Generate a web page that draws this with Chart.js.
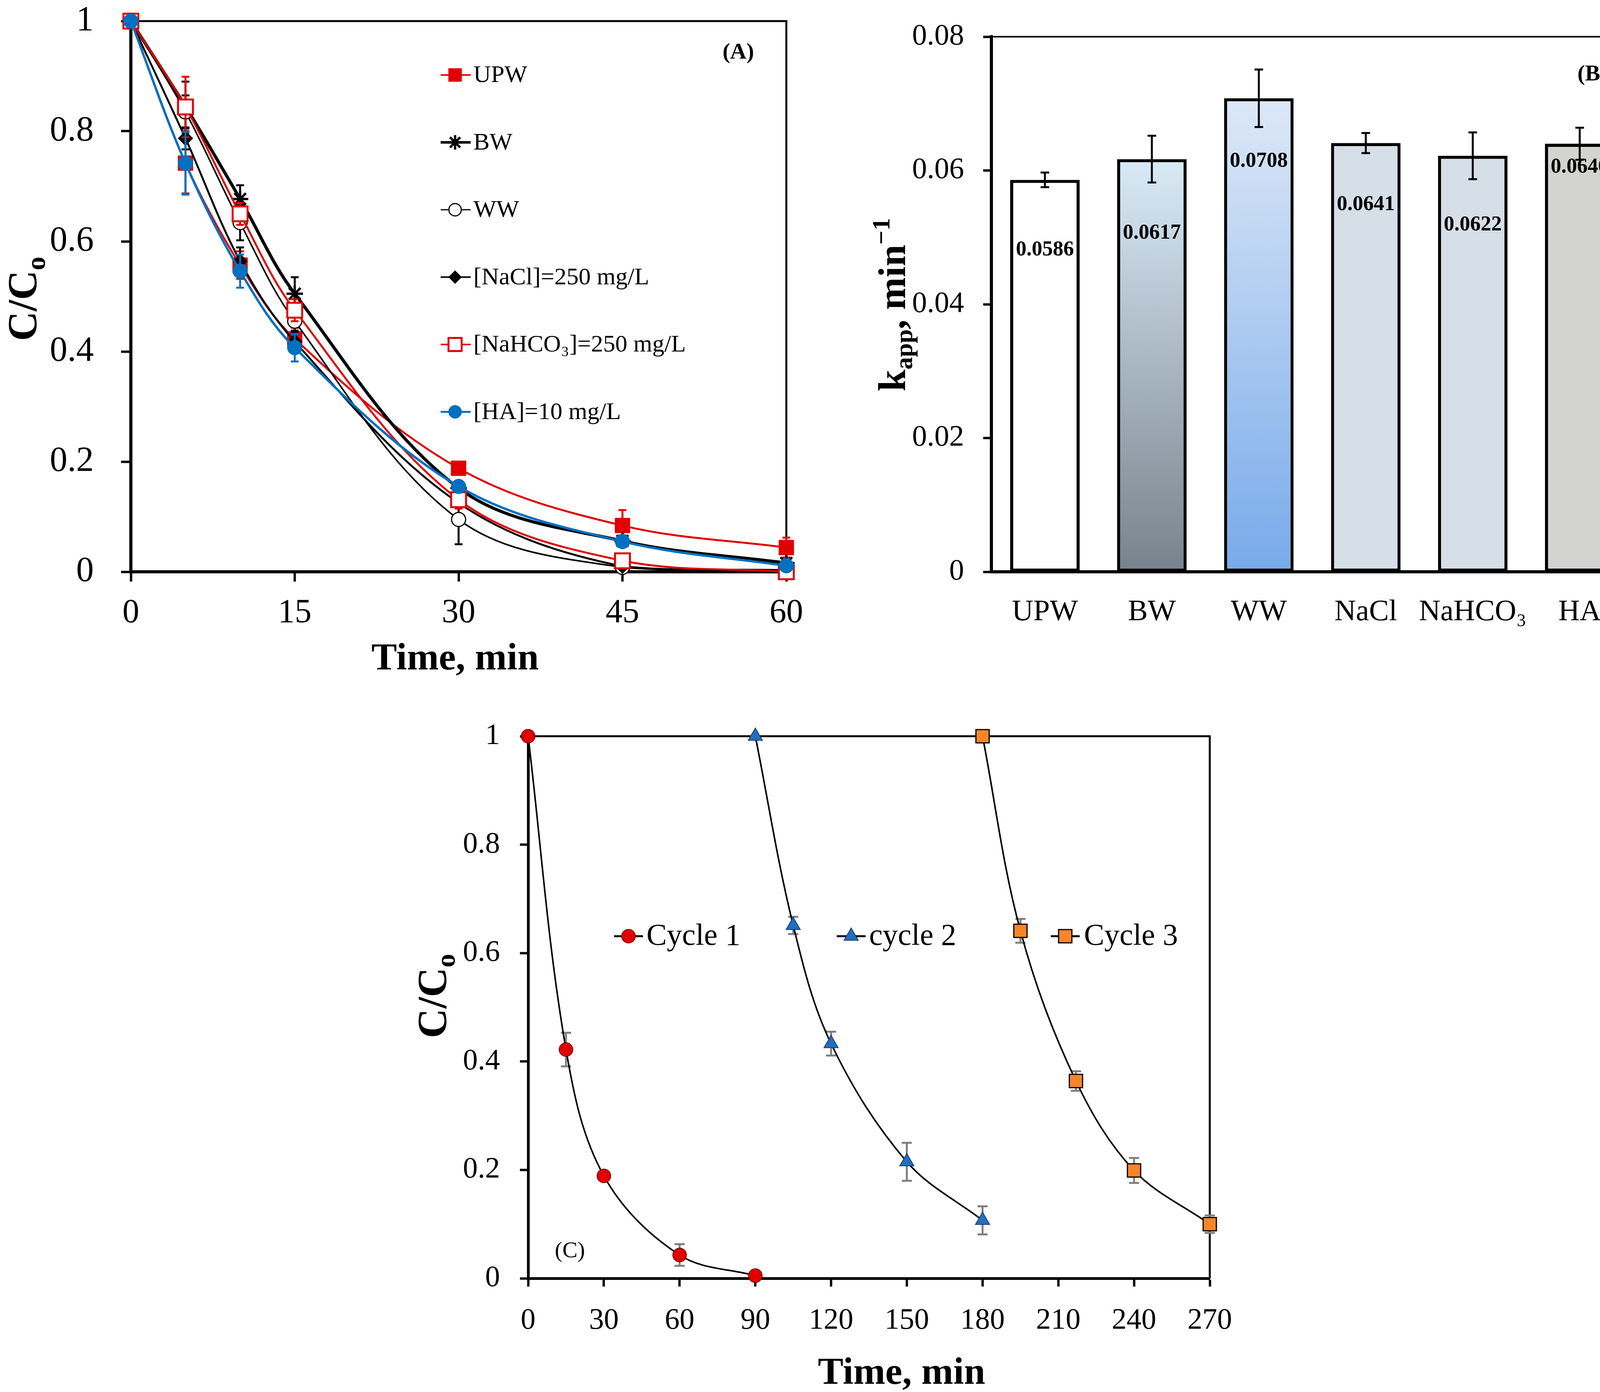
<!DOCTYPE html>
<html>
<head>
<meta charset="utf-8">
<script src="https://cdn.jsdelivr.net/npm/chart.js@4.4.1/dist/chart.umd.min.js"></script>
<style>
html,body{margin:0;padding:0;background:#fff;width:4197px;height:3564px;overflow:hidden;position:relative}
canvas{position:absolute}
</style>
</head>
<body>
<canvas id="cA" width="2150" height="1760" style="left:0px;top:0px;width:2150px;height:1760px"></canvas>
<canvas id="cB" width="1997" height="1760" style="left:2200px;top:0px;width:1997px;height:1760px"></canvas>
<canvas id="cC" width="2300" height="1814" style="left:1000px;top:1750px;width:2300px;height:1814px"></canvas>
<script>
// ================= DATA =================
// Panel (A): C/Co vs time for different water matrices
const timeA = [0, 5, 10, 15, 30, 45, 60];
const namesA = ['UPW', 'BW', 'WW', '[NaCl]=250 mg/L', '[NaHCO₃]=250 mg/L', '[HA]=10 mg/L'];
const upwA    = [1, 0.742, 0.557, 0.423, 0.188, 0.084, 0.044];
const bwA     = [1, 0.845, 0.677, 0.505, 0.152, 0.056, 0.016];
const wwA     = [1, 0.835, 0.634, 0.455, 0.095, 0.008, 0.002];
const naclA   = [1, 0.787, 0.564, 0.418, 0.125, 0.010, 0.003];
const nahco3A = [1, 0.844, 0.650, 0.475, 0.131, 0.020, 0.000];
const haA     = [1, 0.742, 0.546, 0.407, 0.155, 0.055, 0.011];
const upwErrA    = [0, 0.055, 0.025, 0.020, 0.010, 0.028, 0.018];
const bwErrA     = [0, 0.045, 0.025, 0.030, 0.010, 0.010, 0.005];
const wwErrA     = [0, 0.030, 0.032, 0.020, 0.045, 0.005, 0.003];
const naclErrA   = [0, 0.020, 0.025, 0.020, 0.010, 0.005, 0.003];
const nahco3ErrA = [0, 0.055, 0.020, 0.020, 0.015, 0.010, 0.008];
const haErrA     = [0, 0.057, 0.030, 0.025, 0.010, 0.008, 0.005];
const yTicksA = [0, 0.2, 0.4, 0.6, 0.8, 1];
const xTicksA = [0, 15, 30, 45, 60];

// Panel (B): apparent rate constants
const catsB = ['UPW', 'BW', 'WW', 'NaCl', 'NaHCO₃', 'HA'];
const kappB = [0.0586, 0.0617, 0.0708, 0.0641, 0.0622, 0.0640];
const kErrB = [0.0011, 0.0035, 0.0043, 0.0015, 0.0035, 0.0024];
const kLabelsB = ['0.0586', '0.0617', '0.0708', '0.0641', '0.0622', '0.0640'];

// Panel (C): reuse cycles
const namesC = ['Cycle 1', 'cycle 2', 'Cycle 3'];
const cycle1T = [0, 15, 30, 60, 90];
const cycle1V = [1, 0.422, 0.189, 0.043, 0.005];
const cycle1E = [0, 0.031, 0.006, 0.020, 0.003];
const cycle2T = [90, 105, 120, 150, 180];
const cycle2V = [1, 0.651, 0.433, 0.215, 0.107];
const cycle2E = [0, 0.016, 0.022, 0.035, 0.026];
const cycle3T = [180, 195, 217, 240, 270];
const cycle3V = [1, 0.641, 0.364, 0.199, 0.100];
const cycle3E = [0, 0.022, 0.018, 0.023, 0.016];

// ================= HELPERS =================
const SERIF = "'Liberation Serif', 'Times New Roman', serif";
Chart.defaults.font.family = SERIF;
Chart.defaults.color = '#000';

function xy(xs, ys) { return xs.map((x, i) => ({ x: x, y: ys[i] })); }
function fnt(size, bold) { return (bold ? 'bold ' : '') + size + 'px ' + SERIF; }
function fixY(w) { return s => { s.width = w; s.paddingTop = 0; s.paddingBottom = 0; }; }
function fixX(h) { return s => { s.height = h; s.paddingLeft = 0; s.paddingRight = 0; }; }

function drawRich(ctx, parts, cx, cy, rotate) {
  ctx.save();
  ctx.translate(cx, cy);
  if (rotate) ctx.rotate(-Math.PI / 2);
  let total = 0;
  parts.forEach(p => { ctx.font = fnt(p.size, p.bold); p.w = ctx.measureText(p.t).width; total += p.w; });
  let x = -total / 2;
  const base = parts[0].size * 0.34;
  ctx.fillStyle = '#000';
  ctx.textAlign = 'left';
  ctx.textBaseline = 'alphabetic';
  parts.forEach(p => { ctx.font = fnt(p.size, p.bold); ctx.fillText(p.t, x, base + (p.dy || 0)); x += p.w; });
  ctx.restore();
}

function drawMarker(ctx, ds, x, y, scale) {
  ctx.save();
  ctx.fillStyle = ds.pointBackgroundColor;
  ctx.strokeStyle = ds.pointBorderColor;
  ctx.lineWidth = ds.pointBorderWidth;
  Chart.helpers.drawPoint(ctx, {
    pointStyle: ds.pointStyle, rotation: 0,
    radius: ds.pointRadius * (scale || 1), borderWidth: ds.pointBorderWidth
  }, x, y);
  ctx.restore();
}

function paintErrors(chart, args) {
  const ds = chart.data.datasets[args.index];
  const ctx = chart.ctx, ys = chart.scales.y;
  ctx.save();
  ctx.strokeStyle = ds.errColor;
  ctx.lineWidth = ds.errWidth;
  args.meta.data.forEach((el, i) => {
    const e = ds.errors[i];
    if (!e) return;
    const raw = ds.data[i];
    const v = (typeof raw === 'number') ? raw : raw.y;
    const x = el.x;
    const y1 = ys.getPixelForValue(v + e), y2 = ys.getPixelForValue(v - e);
    const c = ds.errCap;
    ctx.beginPath();
    ctx.moveTo(x, y1); ctx.lineTo(x, y2);
    ctx.moveTo(x - c, y1); ctx.lineTo(x + c, y1);
    ctx.moveTo(x - c, y2); ctx.lineTo(x + c, y2);
    ctx.stroke();
  });
  ctx.restore();
}

// error bars: under the markers for line charts, over the bars for the bar chart
const errorBars = {
  id: 'errorBars',
  beforeDatasetDraw(chart, args) {
    const ds = chart.data.datasets[args.index];
    if (ds.errors && !ds.errOnTop) paintErrors(chart, args);
  },
  afterDatasetDraw(chart, args) {
    const ds = chart.data.datasets[args.index];
    if (ds.errors && ds.errOnTop) paintErrors(chart, args);
  }
};

// thin top/right frame lines
function framePlugin(width) {
  return {
    id: 'frame',
    beforeDatasetsDraw(chart) {
      const a = chart.chartArea, ctx = chart.ctx;
      ctx.save();
      ctx.strokeStyle = '#000';
      ctx.lineWidth = width;
      ctx.beginPath();
      ctx.moveTo(a.left, a.top); ctx.lineTo(a.right, a.top); ctx.lineTo(a.right, a.bottom);
      ctx.stroke();
      ctx.restore();
    }
  };
}

function tickFmt(v) { return String(+v.toFixed(2)); }

// ================= PANEL A =================
const styleA = [
  { c: '#e00000', w: 5, ps: 'rect',    r: 27, bg: '#e00000', bc: '#e00000', bw: 1, order: 5 },
  { c: '#000000', w: 8, ps: 'star',    r: 21, bg: '#000000', bc: '#000000', bw: 6, order: 4 },
  { c: '#000000', w: 4, ps: 'circle',  r: 18, bg: '#ffffff', bc: '#000000', bw: 3, order: 3 },
  { c: '#000000', w: 5, ps: 'rectRot', r: 19, bg: '#000000', bc: '#000000', bw: 1, order: 2 },
  { c: '#e00000', w: 5, ps: 'rect',    r: 27, bg: '#ffffff', bc: '#e00000', bw: 5, order: 1 },
  { c: '#0070c0', w: 6, ps: 'circle',  r: 19, bg: '#0070c0', bc: '#0070c0', bw: 1, order: 0 }
];
const valsA = [upwA, bwA, wwA, naclA, nahco3A, haA];
const errsA = [upwErrA, bwErrA, wwErrA, naclErrA, nahco3ErrA, haErrA];

const datasetsA = namesA.map((n, i) => ({
  label: n,
  data: xy(timeA, valsA[i]),
  borderColor: styleA[i].c,
  borderWidth: styleA[i].w,
  pointStyle: styleA[i].ps,
  pointRadius: styleA[i].r,
  pointBackgroundColor: styleA[i].bg,
  pointBorderColor: styleA[i].bc,
  pointBorderWidth: styleA[i].bw,
  tension: 0.35,
  clip: false,
  order: styleA[i].order,
  errors: errsA[i],
  errColor: styleA[i].c,
  errWidth: 5,
  errCap: 10
}));

const legendA = {
  id: 'legendA',
  afterDraw(chart) {
    const ctx = chart.ctx;
    chart.data.datasets.forEach((ds, i) => {
      const y = 192 + i * 172.5;
      ctx.save();
      ctx.strokeStyle = ds.borderColor;
      ctx.lineWidth = Math.max(3, ds.borderWidth * 0.8);
      ctx.beginPath(); ctx.moveTo(1128, y); ctx.lineTo(1205, y); ctx.stroke();
      ctx.restore();
      drawMarker(ctx, ds, 1165, y, 0.88);
      ctx.save();
      ctx.font = fnt(62, false);
      ctx.fillStyle = '#000';
      ctx.textBaseline = 'middle';
      ctx.textAlign = 'left';
      ctx.fillText(ds.label, 1212, y + 2);
      ctx.restore();
    });
    drawRich(ctx, [{ t: '(A)', size: 58, bold: true }], 1890, 130, false);
    drawRich(ctx, [{ t: 'Time, min', size: 98, bold: true }], 1165, 1681, false);
    drawRich(ctx, [{ t: 'C/C', size: 105, bold: true }, { t: 'o', size: 70, bold: true, dy: 22 }], 57, 765, true);
  }
};

new Chart(document.getElementById('cA'), {
  type: 'line',
  data: { datasets: datasetsA },
  options: {
    responsive: false, devicePixelRatio: 1, animation: false,
    layout: { padding: { top: 54, right: 137, left: 0, bottom: 0 } },
    plugins: { legend: { display: false }, tooltip: { enabled: false } },
    scales: {
      x: {
        type: 'linear', min: 0, max: 60,
        afterBuildTicks: s => { s.ticks = xTicksA.map(v => ({ value: v })); },
        afterFit: fixX(296),
        ticks: { font: { size: 86 }, padding: 30, callback: tickFmt, maxRotation: 0 },
        grid: { drawOnChartArea: false, tickLength: 25, tickWidth: 6, tickColor: '#000' },
        border: { display: true, width: 8, color: '#000' }
      },
      y: {
        type: 'linear', min: 0, max: 1,
        afterBuildTicks: s => { s.ticks = yTicksA.map(v => ({ value: v })); },
        afterFit: fixY(335),
        ticks: { font: { size: 90 }, padding: 70, callback: tickFmt },
        grid: { drawOnChartArea: false, tickLength: 25, tickWidth: 6, tickColor: '#000' },
        border: { display: true, width: 8, color: '#000' }
      }
    }
  },
  plugins: [errorBars, framePlugin(5), legendA]
});

// ================= PANEL B =================
function barFill(ctx) {
  const chart = ctx.chart;
  const i = ctx.dataIndex;
  const a = chart.chartArea;
  const flat = ['#ffffff', '#b4c3cf', '#b0c9ef', '#d6dee7', '#d6dee7', '#d3d3d1'];
  if (!a || (i !== 1 && i !== 2)) return flat[i];
  const ys = chart.scales.y;
  const top = ys.getPixelForValue(kappB[i]);
  const g = chart.ctx.createLinearGradient(0, top, 0, a.bottom);
  if (i === 1) { g.addColorStop(0, '#d9eaf7'); g.addColorStop(1, '#77838c'); }
  else { g.addColorStop(0, '#dde8f7'); g.addColorStop(1, '#78aaea'); }
  return g;
}

const labelOffsetsB = [180, 190, 161, 158, 177, 60];
const decorB = {
  id: 'decorB',
  afterDatasetsDraw(chart) {
    const ctx = chart.ctx;
    const meta = chart.getDatasetMeta(0);
    ctx.save();
    ctx.font = fnt(54, true);
    ctx.fillStyle = '#000';
    ctx.textAlign = 'center';
    ctx.textBaseline = 'middle';
    meta.data.forEach((el, i) => { ctx.fillText(kLabelsB[i], el.x, el.y + labelOffsetsB[i]); });
    ctx.restore();
  },
  afterDraw(chart) {
    const ctx = chart.ctx;
    drawRich(ctx, [{ t: '(B)', size: 58, bold: true }], 1877, 186, false);
    drawRich(ctx, [
      { t: 'k', size: 100, bold: true },
      { t: 'app', size: 64, bold: true, dy: 18 },
      { t: ', min', size: 100, bold: true },
      { t: '−1', size: 64, bold: true, dy: -40 }
    ], 83, 780, true);
  }
};

new Chart(document.getElementById('cB'), {
  type: 'bar',
  data: {
    labels: catsB,
    datasets: [{
      data: kappB,
      backgroundColor: barFill,
      borderColor: '#000',
      borderWidth: 8,
      borderSkipped: false,
      categoryPercentage: 1,
      barPercentage: 0.65,
      errors: kErrB,
      errOnTop: true,
      errColor: '#000',
      errWidth: 5,
      errCap: 11
    }]
  },
  options: {
    responsive: false, devicePixelRatio: 1, animation: false,
    layout: { padding: { top: 94, right: 16, left: 0, bottom: 0 } },
    plugins: { legend: { display: false }, tooltip: { enabled: false } },
    scales: {
      x: {
        afterFit: fixX(296),
        ticks: { font: { size: 76 }, padding: 58, maxRotation: 0, autoSkip: false },
        grid: { display: true, drawOnChartArea: false, drawTicks: false },
        border: { display: true, width: 8, color: '#000' }
      },
      y: {
        min: 0, max: 0.08,
        ticks: { stepSize: 0.02, font: { size: 76 }, padding: 49, callback: v => (v === 0 ? '0' : v.toFixed(2)) },
        afterFit: fixY(338),
        grid: { drawOnChartArea: false, tickLength: 21, tickWidth: 6, tickColor: '#000' },
        border: { display: true, width: 8, color: '#000' }
      }
    }
  },
  plugins: [framePlugin(4), errorBars, decorB]
});

// ================= PANEL C =================
const styleC = [
  { ps: 'circle',   r: 17.5, bg: '#e00000', bc: '#7a0000', bw: 2 },
  { ps: 'triangle', r: 21,   bg: '#1f6fc2', bc: '#1f3864', bw: 2 },
  { ps: 'rect',     r: 24,   bg: '#f7862a', bc: '#000000', bw: 3 }
];
const tC = [cycle1T, cycle2T, cycle3T], vC = [cycle1V, cycle2V, cycle3V], eC = [cycle1E, cycle2E, cycle3E];
const datasetsC = namesC.map((n, i) => ({
  label: n,
  data: xy(tC[i], vC[i]),
  borderColor: '#000',
  borderWidth: 4,
  pointStyle: styleC[i].ps,
  pointRadius: styleC[i].r,
  pointBackgroundColor: styleC[i].bg,
  pointBorderColor: styleC[i].bc,
  pointBorderWidth: styleC[i].bw,
  tension: 0.35,
  clip: false,
  errors: eC[i],
  errColor: '#7f7f7f',
  errWidth: 5,
  errCap: 13
}));
const legendPosC = [[609, 655], [1179, 1225], [1727, 1775]];
const legendC = {
  id: 'legendC',
  afterDraw(chart) {
    const ctx = chart.ctx;
    const y = 647;
    chart.data.datasets.forEach((ds, i) => {
      const [mx, tx] = legendPosC[i];
      ctx.save();
      ctx.strokeStyle = '#000'; ctx.lineWidth = 5;
      ctx.beginPath(); ctx.moveTo(mx - 37, y); ctx.lineTo(mx + 37, y); ctx.stroke();
      ctx.restore();
      drawMarker(ctx, ds, mx, y, 1);
      ctx.save();
      ctx.font = fnt(78, false);
      ctx.fillStyle = '#000';
      ctx.textBaseline = 'middle';
      ctx.textAlign = 'left';
      ctx.fillText(ds.label, tx, y + 2);
      ctx.restore();
    });
    drawRich(ctx, [{ t: '(C)', size: 58, bold: false }], 459, 1449, false);
    drawRich(ctx, [{ t: 'Time, min', size: 98, bold: true }], 1308, 1760, false);
    drawRich(ctx, [{ t: 'C/C', size: 105, bold: true }, { t: 'o', size: 70, bold: true, dy: 22 }], 106, 800, true);
  }
};

new Chart(document.getElementById('cC'), {
  type: 'line',
  data: { datasets: datasetsC },
  options: {
    responsive: false, devicePixelRatio: 1, animation: false,
    layout: { padding: { top: 135, right: 203, left: 0, bottom: 0 } },
    plugins: { legend: { display: false }, tooltip: { enabled: false } },
    scales: {
      x: {
        type: 'linear', min: 0, max: 270,
        ticks: { stepSize: 30, font: { size: 76 }, padding: 42, callback: tickFmt, maxRotation: 0 },
        afterFit: fixX(291),
        grid: { drawOnChartArea: false, tickLength: 21, tickWidth: 6, tickColor: '#000' },
        border: { display: true, width: 7, color: '#000' }
      },
      y: {
        type: 'linear', min: 0, max: 1,
        ticks: { stepSize: 0.2, font: { size: 76 }, padding: 51, callback: tickFmt },
        afterFit: fixY(352),
        grid: { drawOnChartArea: false, tickLength: 21, tickWidth: 6, tickColor: '#000' },
        border: { display: true, width: 7, color: '#000' }
      }
    }
  },
  plugins: [errorBars, framePlugin(5), legendC]
});
</script>
</body>
</html>
